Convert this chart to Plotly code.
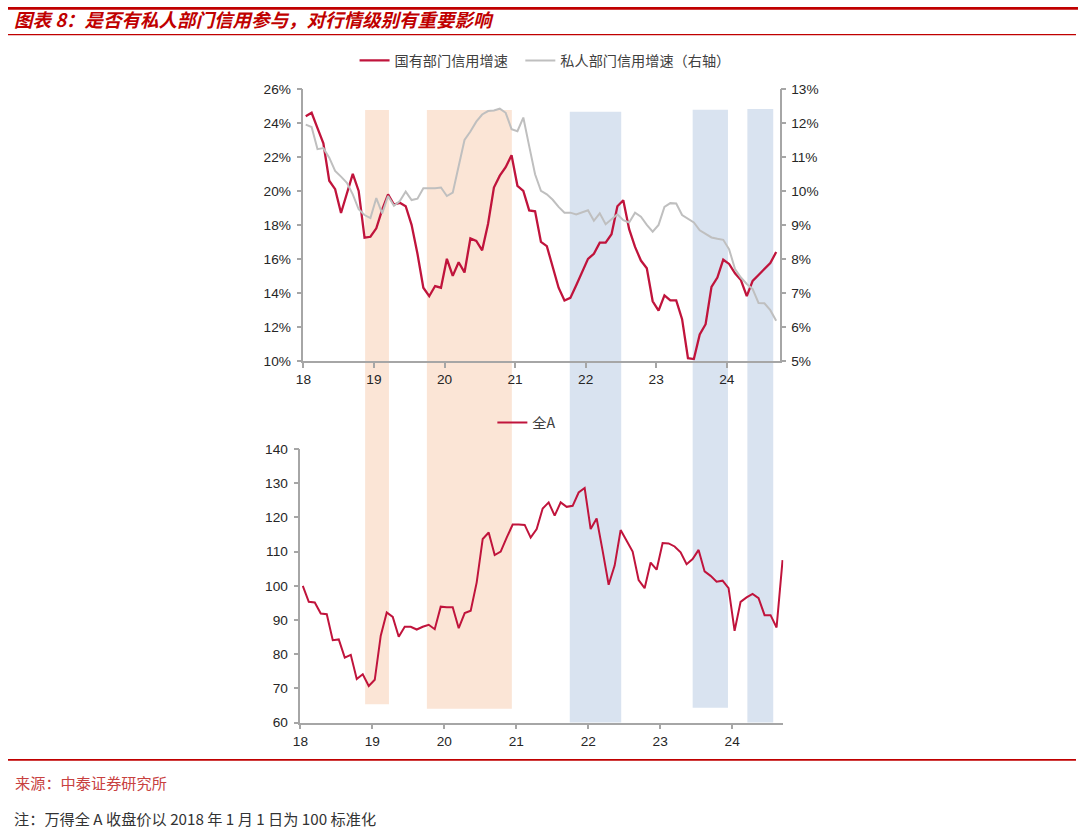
import plotly.graph_objects as go

W, H = 1080, 840
# the returned picture shows the page with a small offset/scale; positions below are
# given in target-picture pixels and converted to figure paper coordinates
OX, SX = 6.5, 0.994
OY, SY = 6.3, 0.982
def X(px):
    return ((px - OX) / SX) / W
def Y(py):
    return 1 - ((py - OY) / SY) / H
FS = 1.0 / 0.988  # font scale compensation

# ---------------- data ----------------
year_labels = ["18", "19", "20", "21", "22", "23", "24"]
year_ticks = [0, 12, 24, 36, 48, 60, 72]          # month index of each January

# monthly, 2018-01 .. 2024-09
state_credit = [
    24.4, 24.6, 23.7, 22.8, 20.6, 20.1, 18.7, 19.9, 21.0, 20.0,
    17.25, 17.3, 17.8, 18.9, 19.8, 19.2, 19.3, 19.1, 18.0, 16.3,
    14.3, 13.8, 14.4, 14.3, 16.0, 15.0, 15.8, 15.2, 17.2, 17.05,
    16.5, 18.05, 20.2, 20.9, 21.4, 22.1, 20.3, 20.0, 18.85, 18.8,
    17.0, 16.75, 15.5, 14.3, 13.55, 13.7, 14.45, 15.25, 16.0, 16.3,
    16.95, 16.95, 17.45, 19.1, 19.45, 17.75, 16.7, 15.9, 15.45, 13.5,
    12.95, 13.85, 13.55, 13.55, 12.45, 10.15, 10.1, 11.55, 12.15, 14.35,
    14.9, 15.95, 15.7, 15.15, 14.75, 13.8, 14.7, 15.05, 15.4, 15.75,
    16.4,
]
private_credit = [
    11.95, 11.88, 11.23, 11.26, 10.98, 10.59, 10.42, 10.24, 9.9, 9.46,
    9.29, 9.2, 9.79, 9.34, 9.85, 9.56, 9.7, 9.98, 9.73, 9.77,
    10.08, 10.07, 10.08, 10.1, 9.85, 9.95, 10.73, 11.5, 11.75, 12.04,
    12.25, 12.35, 12.37, 12.42, 12.3, 11.82, 11.76, 12.16, 11.32, 10.49,
    10.0, 9.9, 9.74, 9.53, 9.36, 9.36, 9.31, 9.36, 9.43, 9.12,
    9.34, 9.02, 9.17, 9.31, 9.14, 9.07, 9.36, 9.24, 9.0, 8.8,
    9.0, 9.53, 9.64, 9.63, 9.29, 9.19, 9.07, 8.84, 8.74, 8.63,
    8.59, 8.56, 8.28, 7.7, 7.45, 7.26, 7.11, 6.7, 6.69, 6.49,
    6.18,
]
wind_all_a = [
    100.0, 95.3, 95.1, 91.9, 91.7, 84.1, 84.3, 79.0, 79.8, 72.7,
    74.1, 70.7, 72.5, 85.4, 92.2, 90.9, 85.1, 88.0, 88.0, 87.2,
    88.0, 88.6, 87.3, 93.9, 93.7, 93.7, 87.6, 92.0, 92.7, 101.0,
    113.7, 115.6, 109.0, 110.0, 114.1, 117.9, 117.9, 117.8, 114.1, 116.6,
    122.6, 124.4, 120.5, 124.4, 123.1, 123.4, 127.3, 128.6, 116.6, 119.7,
    110.2, 100.3, 105.9, 116.3, 113.2, 110.0, 101.7, 99.3, 106.8, 104.7,
    112.5, 112.4, 111.5, 109.8, 106.3, 107.8, 110.5, 104.2, 102.9, 101.2,
    101.5, 99.3, 86.8, 95.3, 96.6, 97.6, 96.4, 91.4, 91.4, 87.8,
    107.5,
]
month_index = list(range(len(state_credit)))

# highlighted periods (month index from 2018-01) and their type
band_start = [10.5, 21.0, 45.3, 66.2, 75.5]
band_end = [14.55, 35.45, 54.05, 72.2, 79.9]
band_kind = ["with_private", "with_private", "without", "without", "without"]

# ---------------- styling ----------------
RED = "#C0143C"
GREY = "#BFBFBF"
AXIS = "#A6A6A6"
TXT = "#262626"
band_color = {"with_private": "#FBE5D6", "without": "#D9E3F0"}
band_top_px = [109.3, 109.3, 111, 109, 108.3]
band_bottom_px = [703.5, 708, 721.7, 707, 721.7]

x_pts = [m + 0.4 for m in month_index]

FONT = "Arial, Liberation Sans, Noto Sans CJK SC, sans-serif"
CJK = "Noto Sans CJK SC, sans-serif"

fig = go.Figure()
fig.add_trace(go.Scatter(
    x=x_pts, y=state_credit, mode="lines", name="国有部门信用增速",
    line=dict(color=RED, width=2.3), xaxis="x", yaxis="y", legend="legend",
))
fig.add_trace(go.Scatter(
    x=x_pts, y=private_credit, mode="lines", name="私人部门信用增速（右轴）",
    line=dict(color=GREY, width=2.0), xaxis="x", yaxis="y2", legend="legend3",
))
fig.add_trace(go.Scatter(
    x=x_pts, y=wind_all_a, mode="lines", name="全A",
    line=dict(color=RED, width=2.0), xaxis="x2", yaxis="y3", legend="legend2",
))

shapes = []
for s, e, k, t, b in zip(band_start, band_end, band_kind, band_top_px, band_bottom_px):
    shapes.append(dict(type="rect", xref="x", yref="paper", x0=s, x1=e,
                       y0=Y(b), y1=Y(t), fillcolor=band_color[k],
                       line=dict(width=0), layer="below"))
# report rules
shapes.append(dict(type="line", xref="paper", yref="paper", x0=0, x1=X(1078),
                   y0=1 - 1.4 / H, y1=1 - 1.4 / H, line=dict(color="#C00000", width=2.8)))
shapes.append(dict(type="line", xref="paper", yref="paper", x0=0, x1=X(1076),
                   y0=Y(34), y1=Y(34), line=dict(color="#C00000", width=1.3)))
shapes.append(dict(type="line", xref="paper", yref="paper", x0=0, x1=X(1076),
                   y0=Y(759), y1=Y(759), line=dict(color="#C00000", width=1.8)))

axis_common = dict(showline=True, linecolor=AXIS, linewidth=1.5, ticks="outside",
                   ticklen=5, tickcolor=AXIS, tickwidth=1.5, showgrid=False,
                   zeroline=False, tickfont=dict(family=FONT, size=13.5 * FS, color=TXT))

legend_common = dict(orientation="h", xanchor="left", yanchor="middle",
                     bgcolor="rgba(0,0,0,0)",
                     font=dict(family=CJK, size=14 * FS, color="#404040"))
LEG_OFF = 8.5 / W   # legend origin to start of its line symbol (balanced with text gap)

fig.update_layout(
    width=W, height=H, margin=dict(l=0, r=0, t=0, b=0),
    paper_bgcolor="white", plot_bgcolor="rgba(0,0,0,0)",
    font=dict(family=FONT, size=13, color=TXT),
    shapes=shapes,
    xaxis=dict(domain=[X(302.3), X(779.3)], range=[0, 81.0], anchor="y",
               tickvals=year_ticks, ticktext=year_labels, **axis_common),
    yaxis=dict(domain=[Y(360), Y(88.3)], range=[10, 26], dtick=2, ticksuffix="%",
               anchor="x", ticklabelstandoff=3, **axis_common),
    yaxis2=dict(domain=[Y(360), Y(88.3)], range=[5, 13], dtick=1, ticksuffix="%",
                overlaying="y", side="right", anchor="x", ticklabelstandoff=2,
                **axis_common),
    xaxis2=dict(domain=[X(299.3), X(783)], range=[0, 80.54], anchor="y3",
                tickvals=year_ticks, ticktext=year_labels, **axis_common),
    yaxis3=dict(domain=[Y(721.7), Y(448.3)], range=[60, 140], dtick=10,
                anchor="x2", ticklabelstandoff=3, **axis_common),
    legend=dict(x=X(362) - LEG_OFF, y=Y(60), **legend_common),
    legend3=dict(x=X(528) - LEG_OFF, y=Y(60), **legend_common),
    legend2=dict(x=X(500) - LEG_OFF, y=Y(422), **legend_common),
    showlegend=True,
    annotations=[
        dict(text="图表 8：是否有私人部门信用参与，对行情级别有重要影响", xref="paper", yref="paper",
             x=X(11), y=Y(18), xanchor="left", yanchor="middle", showarrow=False,
             font=dict(family=CJK, size=18.5, color="#C00000", weight="bold", style="italic")),
        dict(text="来源：中泰证券研究所", xref="paper", yref="paper",
             x=X(12), y=Y(781.5), xanchor="left", yanchor="middle", showarrow=False,
             font=dict(family=CJK, size=15.2, color="#C8413F")),
        dict(text="注：万得全 A 收盘价以 2018 年 1 月 1 日为 100 标准化", xref="paper", yref="paper",
             x=X(12), y=2.0 / H, xanchor="left", yanchor="bottom", showarrow=False,
             borderpad=0,
             font=dict(family=CJK, size=15.2, color="#333333")),
    ],
)

fig.write_html(
    "out.html",
    config={"displayModeBar": False},
    post_script=("var gd=document.getElementById('{plot_id}');"
                 "gd.style.position='fixed';gd.style.left='0px';gd.style.top='0px';"
                 "document.body.style.margin='0px';"
                 "document.body.style.overflow='hidden';"
                 "document.documentElement.style.overflow='hidden';"),
)
